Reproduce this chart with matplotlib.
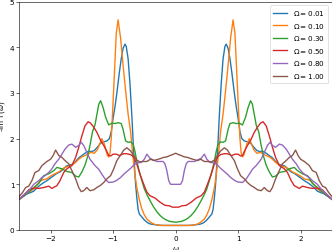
import numpy as np
import matplotlib
matplotlib.use('Agg')
import matplotlib.pyplot as plt

# spectra are even in omega, so only the omega >= 0 half is listed
w01 = [0.00, 0.20, 0.30, 0.40, 0.45, 0.50, 0.55, 0.58, 0.60, 0.62, 0.64, 0.66, 0.68, 0.70, 0.73,
       0.76, 0.79, 0.81, 0.84, 0.87, 0.90, 0.94, 0.97, 1.00, 1.03, 1.06, 1.10, 1.15, 1.20, 1.26,
       1.30, 1.34, 1.40, 1.45, 1.50, 1.55, 1.60, 1.65, 1.70, 1.75, 1.80, 1.85, 1.90, 1.95, 2.00,
       2.06, 2.12, 2.17, 2.22, 2.27, 2.32, 2.38, 2.44, 2.50]
v01 = [0.10, 0.10, 0.11, 0.13, 0.16, 0.22, 0.30, 0.35, 0.45, 0.70, 1.00, 1.45, 1.95, 2.50, 3.20,
       3.75, 4.02, 4.07, 3.98, 3.75, 3.45, 3.00, 2.70, 2.45, 2.15, 2.00, 1.95, 1.93, 1.90, 1.80,
       1.74, 1.72, 1.72, 1.68, 1.63, 1.58, 1.50, 1.44, 1.42, 1.40, 1.33, 1.27, 1.24, 1.19, 1.14,
       1.08, 1.03, 0.98, 0.92, 0.85, 0.82, 0.79, 0.73, 0.67]

w10 = [0.00, 0.25, 0.30, 0.35, 0.40, 0.46, 0.50, 0.54, 0.58, 0.62, 0.65, 0.69, 0.72, 0.76, 0.80,
       0.84, 0.88, 0.92, 0.95, 0.98, 1.01, 1.03, 1.05, 1.07, 1.09, 1.11, 1.14, 1.18, 1.21, 1.25,
       1.30, 1.36, 1.40, 1.45, 1.50, 1.55, 1.60, 1.65, 1.70, 1.77, 1.82, 1.86, 1.90, 1.95, 2.00,
       2.06, 2.12, 2.17, 2.22, 2.27, 2.32, 2.38, 2.44, 2.50]
v10 = [0.10, 0.10, 0.11, 0.13, 0.17, 0.24, 0.33, 0.46, 0.66, 0.92, 1.20, 1.70, 2.15, 2.54, 3.05,
       3.60, 4.20, 4.60, 4.30, 3.40, 2.54, 2.00, 1.68, 1.60, 1.63, 1.72, 1.88, 2.00, 1.90, 1.76,
       1.68, 1.70, 1.66, 1.63, 1.60, 1.55, 1.48, 1.43, 1.40, 1.37, 1.33, 1.28, 1.25, 1.22, 1.18,
       1.12, 1.10, 1.07, 0.98, 0.90, 0.85, 0.81, 0.75, 0.67]

w30 = [0.00, 0.10, 0.15, 0.20, 0.25, 0.30, 0.35, 0.40, 0.45, 0.50, 0.54, 0.58, 0.62, 0.65, 0.68,
       0.72, 0.76, 0.80, 0.84, 0.87, 0.92, 0.97, 1.02, 1.07, 1.12, 1.16, 1.20, 1.23, 1.25, 1.29,
       1.33, 1.37, 1.41, 1.45, 1.50, 1.55, 1.60, 1.66, 1.74, 1.82, 1.90, 1.95, 2.03, 2.11, 2.19,
       2.27, 2.35, 2.43, 2.50]
v30 = [0.17, 0.19, 0.22, 0.26, 0.32, 0.40, 0.50, 0.62, 0.75, 0.90, 1.08, 1.28, 1.50, 1.72, 1.88,
       1.93, 1.92, 1.95, 2.20, 2.33, 2.35, 2.33, 2.34, 2.30, 2.47, 2.68, 2.83, 2.75, 2.60, 2.30,
       2.15, 1.85, 1.60, 1.42, 1.27, 1.16, 1.18, 1.26, 1.28, 1.34, 1.37, 1.30, 1.23, 1.19, 1.02,
       0.93, 0.83, 0.75, 0.68]

w50 = [0.00, 0.05, 0.10, 0.17, 0.25, 0.33, 0.41, 0.46, 0.51, 0.57, 0.62, 0.67, 0.72, 0.78, 0.83,
       0.90, 0.95, 1.00, 1.04, 1.07, 1.10, 1.15, 1.20, 1.26, 1.31, 1.36, 1.40, 1.45, 1.50, 1.55,
       1.60, 1.66, 1.74, 1.79, 1.85, 1.90, 1.98, 2.03, 2.11, 2.19, 2.27, 2.35, 2.43, 2.50]
v50 = [0.50, 0.50, 0.53, 0.54, 0.61, 0.70, 0.75, 0.83, 1.00, 1.22, 1.44, 1.60, 1.65, 1.67, 1.67,
       1.63, 1.66, 1.66, 1.62, 1.63, 1.72, 1.85, 1.96, 2.14, 2.25, 2.34, 2.37, 2.28, 2.06, 1.81,
       1.59, 1.41, 1.34, 1.26, 1.08, 0.97, 0.91, 0.96, 0.93, 0.91, 0.92, 0.88, 0.76, 0.68]

w80 = [0.00, 0.08, 0.11, 0.14, 0.17, 0.20, 0.25, 0.30, 0.35, 0.41, 0.46, 0.50, 0.55, 0.62, 0.67,
       0.72, 0.78, 0.83, 0.88, 0.95, 1.00, 1.07, 1.12, 1.18, 1.23, 1.29, 1.37, 1.42, 1.47, 1.51,
       1.55, 1.60, 1.66, 1.71, 1.77, 1.82, 1.87, 1.93, 1.98, 2.03, 2.09, 2.14, 2.19, 2.27, 2.35,
       2.43, 2.50]
v80 = [1.00, 1.00, 1.08, 1.30, 1.45, 1.50, 1.50, 1.50, 1.53, 1.57, 1.66, 1.55, 1.48, 1.47, 1.42,
       1.35, 1.28, 1.22, 1.15, 1.08, 1.05, 1.04, 1.10, 1.22, 1.33, 1.41, 1.55, 1.70, 1.85, 1.92,
       1.85, 1.81, 1.88, 1.86, 1.77, 1.66, 1.55, 1.45, 1.34, 1.26, 1.19, 1.15, 1.08, 1.00, 0.86,
       0.77, 0.68]

w100 = [0.00, 0.05, 0.09, 0.14, 0.19, 0.25, 0.30, 0.35, 0.40, 0.46, 0.52, 0.57, 0.62, 0.67, 0.72,
        0.78, 0.83, 0.88, 0.94, 0.99, 1.04, 1.10, 1.15, 1.20, 1.26, 1.31, 1.37, 1.42, 1.47, 1.51,
        1.55, 1.60, 1.66, 1.71, 1.77, 1.82, 1.87, 1.92, 1.96, 2.00, 2.06, 2.14, 2.19, 2.25, 2.30,
        2.35, 2.40, 2.45, 2.50]
v100 = [1.68, 1.65, 1.63, 1.60, 1.59, 1.56, 1.54, 1.52, 1.55, 1.50, 1.50, 1.49, 1.53, 1.63, 1.73,
        1.80, 1.75, 1.64, 1.52, 1.34, 1.19, 1.12, 1.04, 0.98, 0.93, 0.88, 0.86, 0.93, 0.86, 0.84,
        0.93, 1.12, 1.30, 1.45, 1.52, 1.59, 1.63, 1.75, 1.63, 1.55, 1.50, 1.41, 1.30, 1.26, 1.08,
        0.96, 0.93, 0.82, 0.74]

omegas = [0.01, 0.10, 0.30, 0.50, 0.80, 1.00]
series = [(w01, v01), (w10, v10), (w30, v30), (w50, v50), (w80, v80), (w100, v100)]


def full(w, v):
    w = np.asarray(w)
    v = np.asarray(v)
    return np.concatenate([-w[:0:-1], w]), np.concatenate([v[:0:-1], v])


fig = plt.figure(figsize=(6.4, 4.838), dpi=51.875)
ax = fig.add_axes([0.0584, 0.0797, 0.941, 0.910])
for om, (w, v) in zip(omegas, series):
    x, y = full(w, v)
    ax.plot(x, y, lw=1.9, label=r'$\Omega = %.2f$' % om)

ax.set_xlim(-2.5, 2.5)
ax.set_ylim(0, 5)
ax.set_xlabel(r'$\omega$')
ax.set_ylabel(r'-Im T($\omega$)')
ax.legend(loc='upper right')

fig.savefig('out.png', dpi=51.875)
